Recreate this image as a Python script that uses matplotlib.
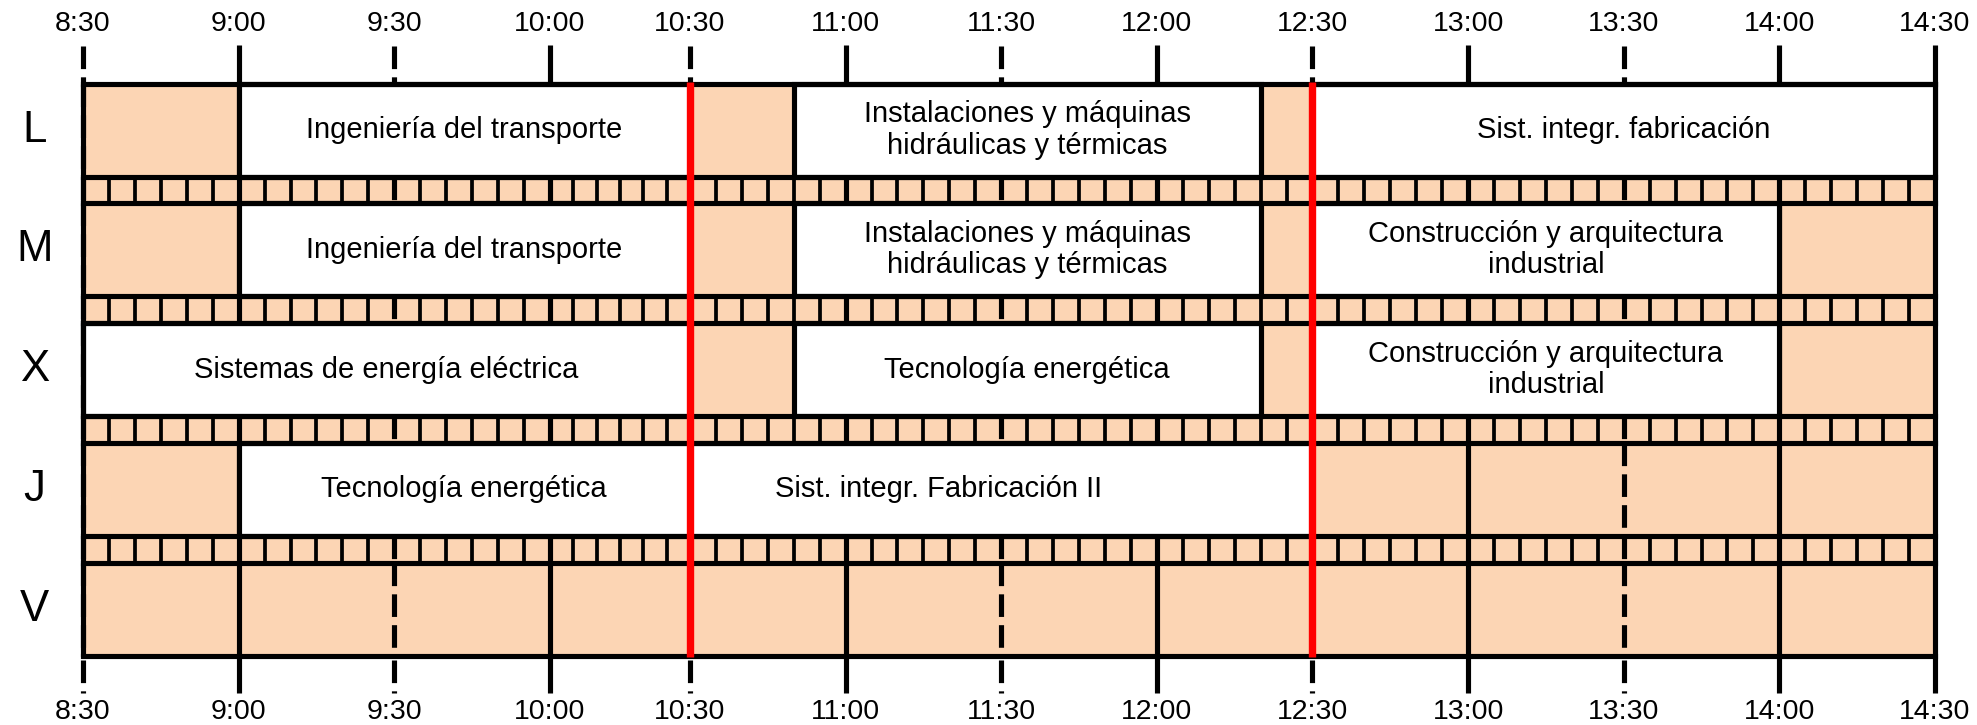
import numpy as np
import matplotlib.pyplot as plt
from matplotlib.patches import Rectangle

plt.rcParams['font.family'] = ['Liberation Sans', 'DejaVu Sans']

days = ['L', 'M', 'X', 'J', 'V']
tick_labels = ['8:30', '9:00', '9:30', '10:00', '10:30', '11:00', '11:30',
               '12:00', '12:30', '13:00', '13:30', '14:00', '14:30']
breaks = ['10:30', '12:30']

class_day = [0, 0, 0, 1, 1, 1, 2, 2, 2, 3, 3]
class_start = ['9:00', '10:50', '12:30', '9:00', '10:50', '12:30',
               '8:30', '10:50', '12:30', '9:00', '10:30']
class_end = ['10:30', '12:20', '14:30', '10:30', '12:20', '14:00',
             '10:30', '12:20', '14:00', '10:30', '12:30']
class_name = ['Ingeniería del transporte',
              'Instalaciones y máquinas\nhidráulicas y térmicas',
              'Sist. integr. fabricación',
              'Ingeniería del transporte',
              'Instalaciones y máquinas\nhidráulicas y térmicas',
              'Construcción y arquitectura\nindustrial',
              'Sistemas de energía eléctrica',
              'Tecnología energética',
              'Construcción y arquitectura\nindustrial',
              'Tecnología energética',
              'Sist. integr. Fabricación II']
# where the label sits, when it is not in the middle of its box
class_text_at = [None] * 10 + ['11:18']

peach = '#FCD5B4'


def minutes(s):
    h, m = s.split(':')
    return (int(h) - 8) * 60 + int(m) - 30


# the 10:00-10:30 column is a bit narrower in the original
knots_t = [-100, 90, 120, 500]
knots_u = [-100, 90, 117, 497]


def fwd(t):
    return np.interp(t, knots_t, knots_u)


def inv(u):
    return np.interp(u, knots_u, knots_t)


fig = plt.figure(figsize=(19.77, 7.25), dpi=100)
ax = fig.add_axes([0, 0, 1, 1])
ax.set_xscale('function', functions=(fwd, inv))
ax.set_xlim(inv(-16.0), inv(365.1))
ax.set_ylim(725, 0)
ax.axis('off')

top, pitch, row_h = 83.5, 119.8, 93.0
row_top = [top + i * pitch for i in range(len(days))]
row_bot = [y + row_h for y in row_top]
bottom = row_bot[-1]
t_end = minutes(tick_labels[-1])

lw_main = 3.7
dash = (0, (4.4, 1.6))

# peach background
ax.add_patch(Rectangle((0, top), t_end, bottom - top, facecolor=peach,
                       edgecolor='none', zorder=0))

# thin cells in the stripes between days
for i in range(len(days) - 1):
    y0, y1 = row_bot[i], row_top[i + 1]
    for t in range(5, t_end, 5):
        if t % 30 == 0:
            continue
        ax.plot([t, t], [y0, y1], color='black', lw=2.7, zorder=1,
                solid_capstyle='butt')

# grid lines for each tick
segments = [(46, top)] + [(row_top[i], row_bot[i]) for i in range(len(days))] \
    + [(row_bot[i], row_top[i + 1]) for i in range(len(days) - 1)] + [(660, 693)]
for lab in tick_labels:
    t = minutes(lab)
    if lab.endswith(':00') or lab == tick_labels[-1]:
        ax.plot([t, t], [45, 693], color='black', lw=lw_main, zorder=1,
                solid_capstyle='butt')
    else:
        for y0, y1 in segments:
            ax.plot([t, t], [y0, y1], color='black', lw=lw_main, zorder=1,
                    linestyle=dash, dash_capstyle='butt')
    ax.text(t, 24, lab, ha='center', va='center', fontsize=20.5)
    ax.text(t, 712, lab, ha='center', va='center', fontsize=20.5)

ax.plot([0, 0], [top, bottom], color='black', lw=lw_main, zorder=4,
        solid_capstyle='butt')

# horizontal lines of the rows
for y in row_top + row_bot:
    ax.plot([0, t_end], [y, y], color='black', lw=lw_main, zorder=4,
            solid_capstyle='projecting')

# classes
for d, s, e, name, at in zip(class_day, class_start, class_end,
                             class_name, class_text_at):
    t0, t1 = minutes(s), minutes(e)
    ax.add_patch(Rectangle((t0, row_top[d]), t1 - t0, row_h, facecolor='white',
                           edgecolor='black', lw=lw_main, zorder=3))
    if at is None:
        tx = inv((fwd(t0) + fwd(t1)) / 2)
    else:
        tx = minutes(at)
    ax.text(tx, row_top[d] + row_h / 2, name, ha='center', va='center',
            fontsize=21, linespacing=1.15, zorder=5)

for i, d in enumerate(days):
    ax.text(inv(-9.4), row_top[i] + row_h / 2, d, ha='center', va='center',
            fontsize=31.5)

for b in breaks:
    t = minutes(b)
    ax.plot([t, t], [top - 2, bottom + 1], color='#FF0000', lw=5.3, zorder=6,
            solid_capstyle='butt')

fig.savefig('out.png', dpi=100)
